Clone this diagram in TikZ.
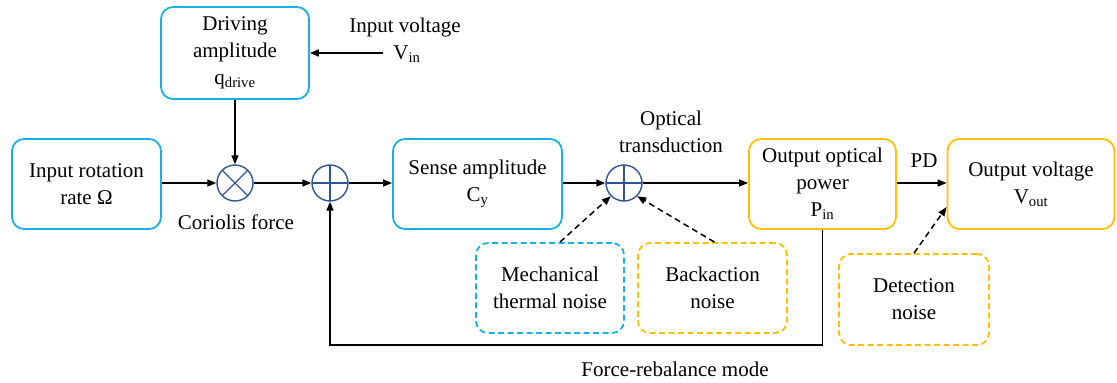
\documentclass[tikz,border=0pt]{standalone}
\usepackage{fontspec}
\setmainfont{Liberation Serif}
\newfontfamily\tnr{Liberation Serif}
\usetikzlibrary{arrows.meta,calc}
\definecolor{bblue}{HTML}{1AAFE6}
\definecolor{borange}{HTML}{FFC000}
\definecolor{cblue}{HTML}{2F5597}
\begin{document}
\begin{tikzpicture}[x=1pt,y=-1pt,
  every node/.style={font=\tnr\fontsize{21}{27}\selectfont},
  box/.style={draw, rounded corners=12pt, line width=1.8pt, align=center, inner sep=0pt},
  bluebox/.style={box, draw=bblue},
  orangebox/.style={box, draw=borange},
  noise/.style={dash pattern=on 6pt off 3.5pt},
  sumc/.style={circle, draw=cblue, line width=1.4pt, minimum size=36pt, inner sep=0pt},
  arr/.style={-{Triangle[length=9pt,width=7pt]}, line width=1.5pt},
  darr/.style={arr, dash pattern=on 6pt off 4pt},
  lbl/.style={align=center, inner sep=0pt}]
\useasboundingbox (0,0) rectangle (1117,383);
% blocks
\node[bluebox, minimum width=148pt, minimum height=92pt] (drive) at (235,53) {Driving\\amplitude\\q\textsubscript{drive}};
\node[bluebox, minimum width=149pt, minimum height=90pt] (rot) at (86.5,184) {Input rotation\\rate Ω};
\node[bluebox, minimum width=169pt, minimum height=90pt] (sense) at (477.5,184) {Sense amplitude\\C\textsubscript{y}};
\node[orangebox, minimum width=147pt, minimum height=90pt] (opt) at (822.5,184) {Output optical\\power\\P\textsubscript{in}};
\node[orangebox, minimum width=167pt, minimum height=90pt] (vout) at (1031,184) {Output voltage\\V\textsubscript{out}};
\node[box, noise, draw=bblue, minimum width=148pt, minimum height=90pt] (mech) at (550,288) {Mechanical\\thermal noise};
\node[box, noise, draw=borange, minimum width=149pt, minimum height=90pt] (back) at (712.5,288) {Backaction\\noise};
\node[box, noise, draw=borange, minimum width=150pt, minimum height=91pt] (det) at (914,299.5) {Detection\\noise};
% junctions
\node[sumc, path picture={\draw[line width=1.4pt] (path picture bounding box.north west) -- (path picture bounding box.south east) (path picture bounding box.north east) -- (path picture bounding box.south west);}] (mult) at (235,183) {};
\node[sumc, path picture={\draw[line width=1.4pt] (path picture bounding box.north) -- (path picture bounding box.south) (path picture bounding box.west) -- (path picture bounding box.east);}] (sum1) at (330,183) {};
\node[sumc, path picture={\draw[line width=1.4pt] (path picture bounding box.north) -- (path picture bounding box.south) (path picture bounding box.west) -- (path picture bounding box.east);}] (sum2) at (624,183) {};
% labels
\node[lbl] (ivt) at (405,27) {Input voltage};
\node[lbl] (vin) at (407,54) {V\textsubscript{in}};
\node[lbl] (cor) at (236,222) {Coriolis force};
\node[lbl] (otr) at (671,132) {Optical\\transduction};
\node[lbl] (pd) at (924,161) {PD};
\node[lbl] (frm) at (675,369) {Force-rebalance mode};
\coordinate (vs) at (383,53);
\coordinate (fb) at (0,345);
% connectors
\draw[arr] (vs) -- (drive.east |- vs);
\draw[arr] (drive.south) -- (mult.north);
\draw[arr] (rot.east |- mult) -- (mult.west);
\draw[arr] (mult.east) -- (sum1.west);
\draw[arr] (sum1.east) -- (sense.west |- sum1);
\draw[arr] (sense.east |- sum2) -- (sum2.west);
\draw[arr] (sum2.east) -- (opt.west |- sum2);
\draw[arr] (opt.east |- sum2) -- (vout.west |- sum2);
\draw[arr] (opt.south) -- (opt.south |- fb) -- (sum1 |- fb) -- (sum1.south);
\draw[darr] ($(mech.north)+(10,0)$) -- (sum2.225);
\draw[darr] ($(back.north)+(2,0)$) -- (sum2.-45);
\draw[darr] (det.north) -- ($(vout.west)+(0,23)$);
\end{tikzpicture}
\end{document}
